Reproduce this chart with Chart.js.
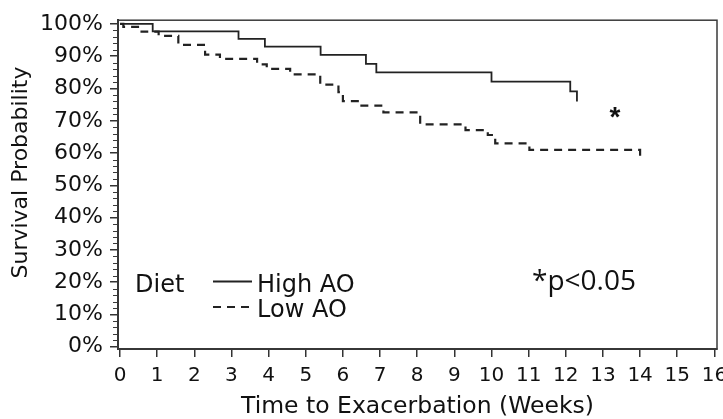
<!DOCTYPE html>
<html>
<head>
<meta charset="utf-8">
<script src="https://cdn.jsdelivr.net/npm/chart.js@4.4.1/dist/chart.umd.min.js"></script>
<style>
	html, body { margin: 0; padding: 0; background: #fff; }
</style>
</head>
<body>
<canvas id="km" width="723" height="419"></canvas>
<script>
const weekTicks = [0, 1, 2, 3, 4, 5, 6, 7, 8, 9, 10, 11, 12, 13, 14, 15, 16];
const pctTicks = [0, 10, 20, 30, 40, 50, 60, 70, 80, 90, 100];
const groupNames = ['High AO', 'Low AO'];

// Kaplan-Meier steps: time of each drop and survival after it
const highWeeks = [0, 0.88, 3.19, 3.9, 5.4, 6.62, 6.9, 10.0, 12.12, 12.3];
const highSurv = [100, 97.7, 95.4, 93.0, 90.4, 87.6, 85.0, 82.1, 79.1, 76.0];

const lowWeeks = [0, 0.09, 0.58, 1.04, 1.57, 2.29, 2.69, 3.69, 3.95, 4.58, 5.39, 5.88, 6.0, 6.46, 7.09, 8.08, 9.3, 9.9, 10.1, 11.02, 14.0];
const lowSurv = [100, 99.1, 97.6, 96.3, 93.5, 90.5, 89.2, 87.5, 86.1, 84.4, 81.2, 78.9, 76.1, 74.7, 72.6, 68.9, 67.1, 65.6, 63.0, 61.0, 58.6];

const ink = '#111';
const axisFont = 'DejaVu Sans';

function toPoints(xs, ys) {
	return xs.map((x, i) => ({ x: x, y: ys[i] }));
}

// frame, minor ticks, y title, legend and the p-value note
const decor = {
	id: 'decor',
	afterDraw(chart) {
		const ctx = chart.ctx;
		const a = chart.chartArea;
		const y = chart.scales.y;
		ctx.save();

		ctx.strokeStyle = '#3a3a3a';
		ctx.lineWidth = 1.5;
		ctx.strokeRect(a.left, a.top, a.right - a.left, a.bottom - a.top);

		ctx.lineWidth = 1.2;
		ctx.beginPath();
		for (let v = 0; v <= 100; v += 2) {
			if (v % 10 === 0) continue;
			const py = Math.round(y.getPixelForValue(v)) + 0.5;
			ctx.moveTo(a.left - 5, py);
			ctx.lineTo(a.left, py);
		}
		ctx.stroke();

		// y title sits a bit above the middle of the axis in the original
		ctx.fillStyle = ink;
		ctx.save();
		ctx.translate(21.5, 172.5);
		ctx.rotate(-Math.PI / 2);
		ctx.font = '22px "' + axisFont + '"';
		ctx.textAlign = 'center';
		ctx.textBaseline = 'middle';
		ctx.fillText('Survival Probability', 0, 0);
		ctx.restore();

		// legend
		ctx.font = '24px "' + axisFont + '"';
		ctx.textBaseline = 'alphabetic';
		ctx.fillText('Diet', 135, 292);
		ctx.fillText(groupNames[0], 257, 292);
		ctx.fillText(groupNames[1], 257, 317);

		ctx.strokeStyle = '#222';
		ctx.lineWidth = 1.8;
		ctx.beginPath();
		ctx.moveTo(213, 281.5);
		ctx.lineTo(252, 281.5);
		ctx.stroke();
		ctx.lineWidth = 2;
		ctx.setLineDash([8, 6]);
		ctx.beginPath();
		ctx.moveTo(213, 307);
		ctx.lineTo(253, 307);
		ctx.stroke();
		ctx.setLineDash([]);

		ctx.font = 'bold 28px "Liberation Sans"';
		ctx.textAlign = 'center';
		ctx.fillText('*', 615, 126);

		ctx.textAlign = 'left';
		ctx.font = '28px "Open Sans"';
		ctx.fillText('*p<0.05', 532, 290);

		ctx.restore();
	}
};

new Chart(document.getElementById('km'), {
	type: 'line',
	data: {
		datasets: [{
			label: groupNames[0],
			data: toPoints(highWeeks, highSurv),
			stepped: true,
			borderColor: '#222',
			borderWidth: 1.8,
			pointRadius: 0,
			fill: false
		}, {
			label: groupNames[1],
			data: toPoints(lowWeeks, lowSurv),
			stepped: true,
			borderColor: '#222',
			borderWidth: 2.2,
			borderDash: [8, 6],
			pointRadius: 0,
			fill: false
		}]
	},
	options: {
		responsive: false,
		animation: false,
		devicePixelRatio: 1,
		layout: { padding: { top: 14.5, right: 6, left: 0, bottom: 0 } },
		plugins: {
			legend: { display: false },
			tooltip: { enabled: false }
		},
		scales: {
			x: {
				type: 'linear',
				min: -0.054,
				max: 16.07,
				afterBuildTicks: (s) => { s.ticks = weekTicks.map(v => ({ value: v })); },
				afterFit: (s) => { s.height = 70; s.paddingLeft = 0; s.paddingRight = 0; },
				grid: { drawOnChartArea: false, tickLength: 8, color: '#333', lineWidth: 1.5 },
				border: { color: '#333', width: 2 },
				ticks: {
					autoSkip: false,
					maxRotation: 0,
					padding: 7,
					color: ink,
					font: { family: axisFont, size: 20 }
				},
				title: {
					display: true,
					text: 'Time to Exacerbation (Weeks)',
					color: ink,
					font: { family: axisFont, size: 23.5 },
					padding: { top: 0, bottom: -2 }
				}
			},
			y: {
				min: -0.7,
				max: 101.16,
				afterBuildTicks: (s) => { s.ticks = pctTicks.map(v => ({ value: v })); },
				afterFit: (s) => { s.width = 118; },
				grid: { drawOnChartArea: false, tickLength: 8, color: '#333', lineWidth: 1.5 },
				border: { color: '#333', width: 2 },
				ticks: {
					padding: 7,
					color: ink,
					font: { family: axisFont, size: 22 },
					callback: (v) => v + '%'
				}
			}
		}
	},
	plugins: [decor]
});
</script>
</body>
</html>
